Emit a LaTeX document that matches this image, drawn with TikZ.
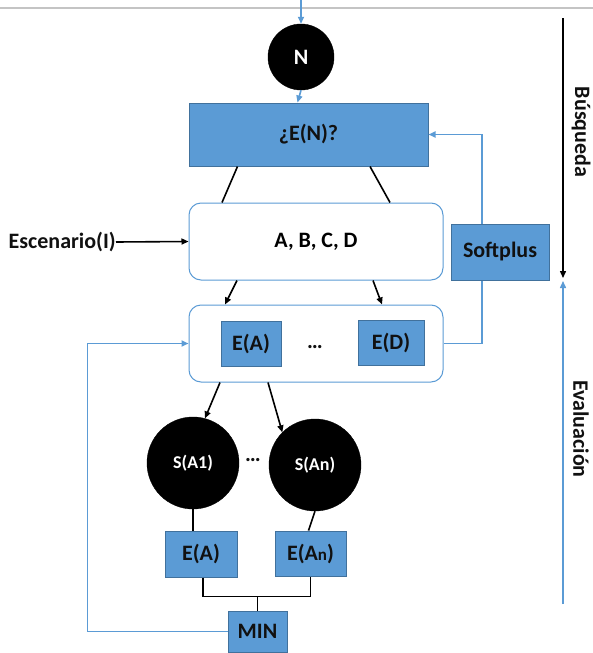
\documentclass[tikz,border=0pt]{standalone}
\usepackage{fontspec}
\setmainfont{Carlito}
\usetikzlibrary{arrows.meta,calc,positioning}
\definecolor{BoxFill}{HTML}{5B9BD5}
\definecolor{BoxEdge}{HTML}{41719C}
\definecolor{FlowBlue}{HTML}{5B9BD5}
\definecolor{RuleGray}{HTML}{C4C4C4}
\definecolor{InkDark}{HTML}{111111}

\begin{document}
\begin{tikzpicture}[x=1pt, y=-1pt,
  bluebox/.style={draw=BoxEdge, fill=BoxFill, line width=1pt, inner sep=0pt, text=InkDark},
  roundbox/.style={draw=FlowBlue, fill=white, line width=1pt, rounded corners=12pt, minimum width=254pt, minimum height=77pt, inner sep=0pt},
  dot/.style={circle, fill=black, draw=black, text=white, inner sep=0pt},
  lab/.style={text=InkDark},
  karrow/.style={draw=black, line width=1.6pt, -{Triangle[length=7pt, width=6pt]}},
  kline/.style={draw=black, line width=1.6pt},
  barrow/.style={draw=FlowBlue, line width=1.6pt, -{Triangle[length=7pt, width=6pt]}},
  bline/.style={draw=FlowBlue, line width=1.6pt},
  font=\bfseries\fontsize{22}{26}\selectfont,
]
\useasboundingbox (0,0) rectangle (593,653);
% ---------------- top rule and search part
\coordinate (ruleL) at (0,8);
\coordinate (ruleR) at (593,8);
\draw[draw=RuleGray, line width=1.2pt] (ruleL) -- (ruleR);
\coordinate (topin) at (301,0);
\node[dot, minimum size=66pt] (N) at (301,57) {N};
\draw[barrow] (topin) -- (N.north);
\node[bluebox, minimum width=239pt, minimum height=63pt] (EN) at (308.5,134.5) {¿E(N)?};
\draw[barrow] (N.south) -- ([xshift=-11]EN.north);
\node[roundbox] (abcd) at (316,241.5) {A, B, C, D};
\draw[kline] ([xshift=-71]EN.south) -- ([xshift=-94]abcd.north);
\draw[kline] ([xshift=61.5]EN.south) -- ([xshift=74]abcd.north);
\node[lab, anchor=east, inner sep=0pt] (esc) at (116,242) {Escenario(I)};
\draw[karrow] (esc.east) -- (abcd.west);
\node[bluebox, minimum width=98pt, minimum height=56pt] (soft) at (500,252) {Softplus};
\draw[barrow] ([xshift=-18]soft.north) |- (EN.east);
% ---------------- evaluation of the candidates
\node[roundbox] (eval) at (316,343.5) {};
\node[bluebox, minimum width=60pt, minimum height=45pt] (ea) at (251,343.5) {E(A)};
\node[lab] (edots) at (315,347) {\dots};
\node[bluebox, minimum width=66pt, minimum height=45pt] (ed) at (391,342.5) {E(D)};
\draw[karrow] ([xshift=-79]abcd.south) -- ([xshift=-91]eval.north);
\draw[karrow] ([xshift=57]abcd.south) -- ([xshift=66]eval.north);
\draw[bline] ([xshift=-18]soft.south) |- (eval.east);
% simulations
\node[dot, minimum size=92pt, font=\bfseries\fontsize{18}{21}\selectfont] (s1) at (193,463) {S(A1)};
\node[dot, minimum size=92pt, font=\bfseries\fontsize{18}{21}\selectfont] (sn) at (315,465) {S(An)};
\node[lab] (sdots) at (253,460) {\dots};
\draw[karrow] ([xshift=-96]eval.south) -- (s1.75);
\draw[karrow] ([xshift=-48]eval.south) -- (sn.135);
\node[bluebox, minimum width=72pt, minimum height=46pt] (ea2) at (201,554) {E(A)};
\node[bluebox, minimum width=71pt, minimum height=45pt] (ean) at (310.5,553.5) {E(A{\fontsize{17}{20}\selectfont n})};
\draw[kline] (s1.south) -- (s1.south |- ea2.north);
\draw[kline] (sn.south) -- ([xshift=-2]ean.north);
% ---------------- minimum and feedback
\node[bluebox, minimum width=59pt, minimum height=41pt] (min) at (257.5,631.5) {MIN};
\coordinate (jn) at ($(min.north)+(0,-14)$);
\draw[kline] ([xshift=2]ea2.south) |- (jn) -| (ean.south);
\draw[kline] (jn) -- (min.north);
\draw[barrow] (min.west) -- ++(-140,0) |- (eval.west);
% ---------------- phases on the right
\coordinate (bTop) at (563,18);
\coordinate (bBot) at (563,278);
\coordinate (eBot) at (563,604);
\coordinate (eTop) at (563,281);
\draw[karrow, line width=1.4pt] (bTop) -- (bBot);
\draw[barrow, line width=1.4pt] (eBot) -- (eTop);
\node[lab, rotate=-90] (busq) at (581,132) {Búsqueda};
\node[lab, rotate=-90] (evalu) at (581,429) {Evaluación};
\end{tikzpicture}
\end{document}
